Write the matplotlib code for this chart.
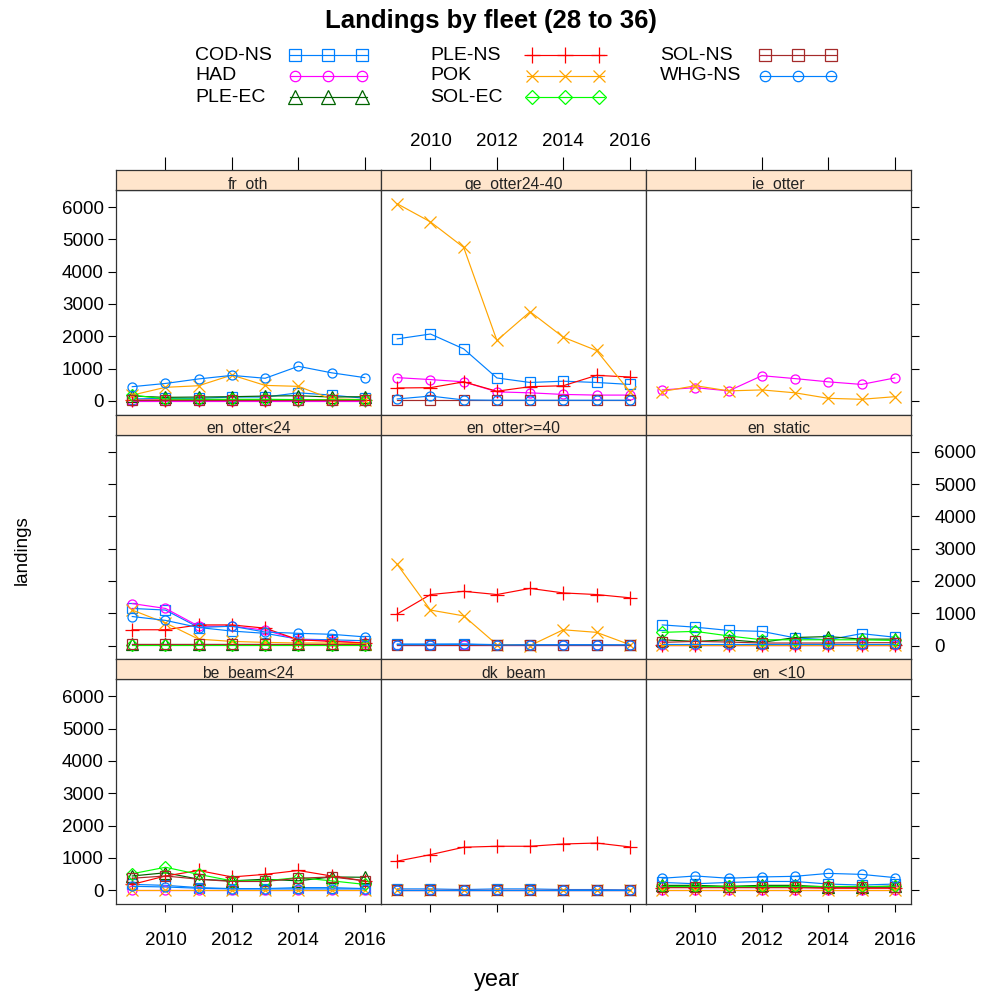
import matplotlib
matplotlib.use("Agg")
import matplotlib.pyplot as plt
from matplotlib.lines import Line2D

plt.rcParams['font.family'] = ['Liberation Sans', 'DejaVu Sans']

# ---------------- data ----------------
years = [2009, 2010, 2011, 2012, 2013, 2014, 2015, 2016]
species = ["COD-NS", "HAD", "PLE-EC", "PLE-NS", "POK", "SOL-EC", "SOL-NS", "WHG-NS"]
panel_names = ["fr_oth", "ge_otter24-40", "ie_otter",
               "en_otter<24", "en_otter>=40", "en_static",
               "be_beam<24", "dk_beam", "en_<10"]
y_ticks = [0, 1000, 2000, 3000, 4000, 5000, 6000]
x_ticks = [2010, 2012, 2014, 2016]

fr_oth = {
    "COD-NS": [60, 80, 80, 120, 120, 250, 180, 80],
    "HAD":    [10, 10, 10, 10, 10, 10, 10, 10],
    "PLE-EC": [150, 110, 120, 130, 150, 160, 120, 130],
    "PLE-NS": [20, 30, 30, 30, 30, 30, 30, 30],
    "POK":    [180, 420, 470, 800, 480, 450, 60, 40],
    "SOL-EC": [180, 60, 50, 50, 50, 40, 30, 40],
    "SOL-NS": [20, 20, 20, 20, 20, 20, 20, 20],
    "WHG-NS": [440, 540, 680, 790, 700, 1070, 870, 720],
}
ge_otter24_40 = {
    "COD-NS": [1920, 2070, 1610, 710, 570, 610, 570, 510],
    "HAD":    [720, 660, 590, 280, 250, 200, 180, 180],
    "PLE-NS": [400, 410, 590, 300, 440, 470, 790, 740],
    "POK":    [6100, 5540, 4750, 1870, 2760, 1970, 1560, 290],
    "SOL-NS": [20, 20, 20, 20, 20, 20, 20, 20],
    "WHG-NS": [60, 150, 30, 20, 20, 20, 20, 20],
}
ie_otter = {
    "HAD": [340, 410, 310, 780, 690, 590, 510, 710],
    "POK": [290, 470, 310, 340, 250, 80, 50, 130],
}
en_otter_lt24 = {
    "COD-NS": [1150, 1100, 560, 450, 380, 200, 180, 150],
    "HAD":    [1300, 1150, 600, 600, 480, 180, 150, 80],
    "PLE-EC": [50, 50, 50, 50, 50, 50, 50, 50],
    "PLE-NS": [490, 490, 640, 640, 540, 180, 130, 80],
    "POK":    [1100, 700, 200, 130, 100, 80, 80, 60],
    "SOL-EC": [20, 20, 20, 20, 20, 20, 20, 20],
    "SOL-NS": [60, 60, 60, 60, 60, 60, 60, 60],
    "WHG-NS": [900, 780, 560, 600, 420, 380, 350, 270],
}
en_otter_ge40 = {
    "COD-NS": [50, 50, 50, 30, 30, 30, 30, 20],
    "HAD":    [20, 20, 20, 20, 20, 20, 20, 20],
    "PLE-NS": [980, 1580, 1680, 1580, 1770, 1630, 1580, 1480],
    "POK":    [2510, 1100, 920, 30, 0, 490, 410, 30],
    "SOL-NS": [20, 20, 20, 20, 20, 20, 20, 20],
    "WHG-NS": [30, 30, 40, 20, 20, 20, 20, 20],
}
en_static = {
    "COD-NS": [640, 570, 470, 440, 240, 180, 370, 260],
    "HAD":    [20, 20, 20, 20, 20, 20, 20, 20],
    "PLE-EC": [180, 130, 180, 100, 250, 280, 200, 200],
    "PLE-NS": [30, 30, 30, 30, 30, 30, 30, 30],
    "POK":    [10, 10, 10, 10, 10, 10, 10, 10],
    "SOL-EC": [410, 440, 300, 180, 180, 180, 180, 160],
    "SOL-NS": [100, 130, 110, 80, 80, 80, 90, 90],
    "WHG-NS": [50, 50, 50, 50, 50, 50, 50, 50],
}
be_beam_lt24 = {
    "COD-NS": [180, 150, 80, 50, 50, 80, 80, 50],
    "HAD":    [10, 10, 10, 10, 10, 10, 10, 10],
    "PLE-EC": [440, 540, 340, 290, 340, 290, 410, 400],
    "PLE-NS": [180, 440, 610, 410, 490, 610, 440, 290],
    "POK":    [0, 0, 0, 0, 0, 0, 0, 0],
    "SOL-EC": [510, 710, 490, 290, 290, 390, 290, 180],
    "SOL-NS": [370, 440, 340, 270, 270, 370, 410, 290],
    "WHG-NS": [120, 100, 60, 40, 40, 40, 40, 40],
}
dk_beam = {
    "COD-NS": [40, 40, 20, 40, 40, 20, 20, 10],
    "HAD":    [10, 10, 10, 10, 10, 10, 10, 10],
    "PLE-NS": [900, 1100, 1330, 1360, 1360, 1430, 1460, 1340],
    "POK":    [0, 0, 0, 0, 0, 0, 0, 0],
    "SOL-NS": [20, 20, 20, 20, 20, 20, 20, 20],
    "WHG-NS": [20, 20, 20, 20, 20, 20, 20, 20],
}
en_lt10 = {
    "COD-NS": [240, 200, 240, 270, 270, 190, 160, 190],
    "HAD":    [20, 20, 20, 20, 20, 20, 20, 20],
    "PLE-EC": [150, 150, 120, 150, 150, 100, 100, 130],
    "PLE-NS": [80, 80, 80, 80, 80, 60, 60, 60],
    "POK":    [10, 10, 10, 10, 10, 10, 10, 10],
    "SOL-EC": [120, 120, 120, 120, 120, 120, 120, 120],
    "SOL-NS": [100, 100, 100, 100, 100, 100, 100, 100],
    "WHG-NS": [370, 440, 370, 410, 430, 520, 490, 390],
}
panel_data = [fr_oth, ge_otter24_40, ie_otter,
              en_otter_lt24, en_otter_ge40, en_static,
              be_beam_lt24, dk_beam, en_lt10]

# ---------------- styles ----------------
colors = {"COD-NS": "#0080ff", "HAD": "#ff00ff", "PLE-EC": "#006400",
          "PLE-NS": "#ff0000", "POK": "#ffa500", "SOL-EC": "#00ff00",
          "SOL-NS": "#a52a2a", "WHG-NS": "#0080ff"}
markers = {"COD-NS": "s", "HAD": "o", "PLE-EC": "^", "PLE-NS": "+",
           "POK": "x", "SOL-EC": "D", "SOL-NS": "s", "WHG-NS": "o"}
msizes = {"s": 7.0, "o": 6.5, "^": 8.5, "+": 9.5, "x": 8.0, "D": 6.5}

W, H = 982, 997
fig = plt.figure(figsize=(W / 100, H / 100), dpi=100)

def rect(x0, y0, x1, y1):
    return [x0 / W, 1 - y1 / H, (x1 - x0) / W, (y1 - y0) / H]

col_x = [116, 381, 646, 911]
strip_top = [170, 414.7, 659.3]
strip_h = 20
plot_h = 224.7
xlim = (2008.51, 2016.49)
ylim = (-427, 6527)
TICK_LEN = 5.8
FS_TICK = 13.5
LW = 0.85

for i, name in enumerate(panel_names):
    r, c = divmod(i, 3)
    x0, x1 = col_x[c], col_x[c + 1]
    st = strip_top[r]
    py0, py1 = st + strip_h, st + strip_h + plot_h
    ax = fig.add_axes(rect(x0, py0, x1, py1))
    data = panel_data[i]
    for sp in species:
        if sp not in data:
            continue
        m = markers[sp]
        ax.plot(years, data[sp], color=colors[sp], lw=LW, marker=m,
                ms=msizes[m], mfc="none", mec=colors[sp], mew=0.9)
    ax.set_xlim(*xlim)
    ax.set_ylim(*ylim)
    for s in ax.spines.values():
        s.set_color("#333333")
        s.set_linewidth(0.9)
    ax.set_yticks(y_ticks)
    ax.set_xticks(x_ticks)
    left = c == 0
    right = c == 2
    ax.tick_params(axis="y", direction="out", length=TICK_LEN, width=0.8,
                   left=left, right=right,
                   labelleft=(left and r != 1), labelright=(right and r == 1),
                   labelsize=FS_TICK, pad=3)
    if right and r == 1:
        ax.tick_params(axis="y", pad=11)
    bottom = r == 2
    ax.tick_params(axis="x", direction="out", length=TICK_LEN, width=0.8,
                   bottom=bottom, top=False,
                   labelbottom=(bottom and c != 1), labeltop=False,
                   labelsize=FS_TICK, pad=14)
    # strip
    sax = fig.add_axes(rect(x0, st, x1, st + strip_h))
    sax.set_facecolor("#ffe5cc")
    sax.set_xlim(*xlim)
    sax.set_ylim(0, 1)
    sax.set_yticks([])
    for s in sax.spines.values():
        s.set_color("#333333")
        s.set_linewidth(0.9)
    if r == 0:
        sax.set_xticks(x_ticks)
        sax.tick_params(axis="x", direction="out", length=TICK_LEN * 1.6,
                        width=0.8, bottom=False, top=True, labelbottom=False,
                        labeltop=(c == 1), labelsize=FS_TICK, pad=5)
    else:
        sax.set_xticks([])
    sax.text(0.5 * (xlim[0] + xlim[1]), 1.6 / strip_h, name,
             ha="center", va="baseline", fontsize=11.3,
             color="#222222", clip_on=True, zorder=1)

# ---------------- title, axis labels ----------------
fig.text(491 / W, 1 - 21 / H, "Landings by fleet (28 to 36)",
         ha="center", va="center", fontsize=18.5, fontweight="bold")
fig.text(497 / W, 1 - 980 / H, "year", ha="center", va="center", fontsize=17)
fig.text(22 / W, 1 - 550 / H, "landings", ha="center", va="center",
         fontsize=13.5, rotation=90)

# ---------------- legend ----------------
lax = fig.add_axes([0, 0, 1, 1])
lax.set_xlim(0, W)
lax.set_ylim(H, 0)
lax.axis("off")
leg_text_x = [195, 430, 660]
leg_line_x = [(290, 367), (527, 604), (760, 836)]
leg_y = [55, 76, 97]
for k, sp in enumerate(species):
    c, r = divmod(k, 3)
    y = leg_y[r]
    lax.text(leg_text_x[c], y, sp, ha="left", va="center", fontsize=14)
    xa, xb = leg_line_x[c]
    m = markers[sp]
    lax.add_line(Line2D([xa, xb], [y, y], color=colors[sp], lw=LW))
    lax.add_line(Line2D([xa + 5, (xa + xb) / 2, xb - 5], [y, y, y],
                        lw=0, marker=m, ms=msizes[m] * 1.15, mfc="none",
                        mec=colors[sp], mew=0.9))

fig.savefig("out.png", dpi=100)
